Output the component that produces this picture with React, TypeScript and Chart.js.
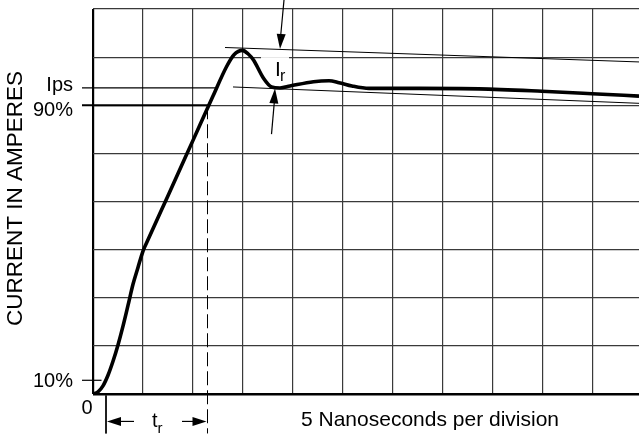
import React, { useEffect, useRef } from "react";
import { Chart, registerables } from "chart.js";

Chart.register(...registerables);

// Axis extents (in grid divisions)
const X_MAX = 10.92;
const Y_MAX = 8;

// Main current waveform (x: divisions of 5 ns, y: divisions)
const curveX = [0, 0.1, 0.2, 0.3, 0.4, 0.5, 0.6, 0.7, 0.8, 0.9, 1.0, 1.12, 1.5, 2.0, 2.4, 2.67, 2.82, 2.99, 3.1, 3.21, 3.41, 3.57, 3.74, 3.94, 4.41, 4.72, 4.92, 5.18, 5.52, 6.52, 7.72, 8.98, 9.98, 10.92];
const curveY = [0, 0.046, 0.17, 0.39, 0.68, 1.02, 1.41, 1.84, 2.28, 2.63, 2.97, 3.25, 4.12, 5.27, 6.19, 6.8, 7.05, 7.14, 7.07, 6.94, 6.56, 6.38, 6.36, 6.4, 6.49, 6.51, 6.47, 6.4, 6.35, 6.35, 6.34, 6.29, 6.24, 6.19];

// Sloped reference lines bounding I_r
const upperRefX = [2.64, 10.92];
const upperRefY = [7.2, 6.9];
const lowerRefX = [2.8, 10.92];
const lowerRefY = [6.38, 6.04];

// Level markers on the left
const levelLabels = ["Ips", "90%", "10%"];
const levelValues = [6.36, 6.0, 0.285];
const levelEnds = [2.5, 2.3, 0.17];
const levelWidths = [1.2, 2.2, 1.2];

// Rise-time markers
const trStartX = 0.26;
const trEndX = 2.29;
const trArrowY = -0.57;
const markerBottomY = -0.82;

const xTitle = "5 Nanoseconds per division";
const yTitle = "CURRENT IN AMPERES";
const FONT = "'Liberation Sans', Arial, Helvetica, sans-serif";

function pts(xs: number[], ys: number[]) {
  return xs.map((x, i) => ({ x, y: ys[i] }));
}

function arrowHead(ctx: CanvasRenderingContext2D, tx: number, ty: number, fx: number, fy: number, len = 14, half = 4.5) {
  const dx = tx - fx, dy = ty - fy;
  const d = Math.hypot(dx, dy) || 1;
  const ux = dx / d, uy = dy / d;
  const bx = tx - ux * len, by = ty - uy * len;
  ctx.beginPath();
  ctx.moveTo(tx, ty);
  ctx.lineTo(bx - uy * half, by + ux * half);
  ctx.lineTo(bx + uy * half, by - ux * half);
  ctx.closePath();
  ctx.fill();
}

const annotations = {
  id: "annotations",
  beforeDatasetsDraw(chart: any) {
    const { ctx } = chart;
    const xs = chart.scales.x, ys = chart.scales.y;
    ctx.save();
    ctx.fillStyle = "#fff";
    const bx = xs.getPixelForValue(3.36), by = ys.getPixelForValue(7.0);
    ctx.fillRect(bx, by, 28, 22);
    ctx.restore();
  },
  afterDatasetsDraw(chart: any) {
    const { ctx } = chart;
    const xs = chart.scales.x, ys = chart.scales.y;
    const area = chart.chartArea;
    ctx.save();
    ctx.fillStyle = "#000";
    ctx.strokeStyle = "#000";
    ctx.lineWidth = 1.2;

    // I_r arrows
    const t1x = xs.getPixelForValue(3.74), t1y = ys.getPixelForValue(7.17);
    const f1x = xs.getPixelForValue(3.82), f1y = 0;
    ctx.beginPath(); ctx.moveTo(f1x, f1y); ctx.lineTo(t1x, t1y - 6); ctx.stroke();
    arrowHead(ctx, t1x, t1y, f1x, f1y, 15, 4.5);
    const t2x = xs.getPixelForValue(3.64), t2y = ys.getPixelForValue(6.35);
    const f2x = xs.getPixelForValue(3.57), f2y = ys.getPixelForValue(5.4);
    ctx.beginPath(); ctx.moveTo(f2x, f2y); ctx.lineTo(t2x, t2y + 6); ctx.stroke();
    arrowHead(ctx, t2x, t2y, f2x, f2y, 15, 4.5);

    // t_r arrows
    const ay = ys.getPixelForValue(trArrowY);
    const lx = xs.getPixelForValue(trStartX), rx = xs.getPixelForValue(trEndX);
    ctx.beginPath(); ctx.moveTo(lx + 6, ay); ctx.lineTo(xs.getPixelForValue(0.82), ay); ctx.stroke();
    arrowHead(ctx, lx + 1, ay, lx + 30, ay, 14, 4.5);
    ctx.beginPath(); ctx.moveTo(xs.getPixelForValue(1.78), ay); ctx.lineTo(rx - 6, ay); ctx.stroke();
    arrowHead(ctx, rx - 1, ay, rx - 30, ay, 14, 4.5);

    // Level labels
    ctx.font = `20px ${FONT}`;
    ctx.textAlign = "right";
    ctx.textBaseline = "alphabetic";
    const offs = [3, 11, 7];
    levelLabels.forEach((l, i) => {
      ctx.fillText(l, area.left - 20, ys.getPixelForValue(levelValues[i]) + offs[i]);
    });
    ctx.textAlign = "center";
    ctx.fillText("0", area.left - 6, area.bottom + 20);

    // x title
    ctx.textAlign = "left";
    ctx.font = `21px ${FONT}`;
    ctx.fillText(xTitle, 301, area.bottom + 32);

    // y title
    ctx.save();
    ctx.translate(16, (area.top + area.bottom) / 2 - 3);
    ctx.rotate(-Math.PI / 2);
    ctx.textAlign = "center";
    ctx.textBaseline = "middle";
    ctx.font = `22.5px ${FONT}`;
    ctx.fillText(yTitle, 0, 0);
    ctx.restore();

    // I_r label
    ctx.textAlign = "left";
    ctx.font = `21px ${FONT}`;
    ctx.fillText("I", 275, 76);
    ctx.font = `16px ${FONT}`;
    ctx.fillText("r", 280, 81);

    // t_r label
    ctx.font = `20px ${FONT}`;
    ctx.fillText("t", 152, 427);
    ctx.font = `15px ${FONT}`;
    ctx.fillText("r", 157.5, 433);

    ctx.restore();
  },
};

export default function App() {
  const ref = useRef<HTMLCanvasElement>(null);
  useEffect(() => {
    if (!ref.current) return;
    const thin = { borderColor: "#000", borderWidth: 1, pointRadius: 0, showLine: true, clip: false as any };
    const datasets: any[] = [
      { label: "current", data: pts(curveX, curveY), borderColor: "#000", borderWidth: 3.6, pointRadius: 0, showLine: true, cubicInterpolationMode: "monotone" },
      { label: "upper", data: pts(upperRefX, upperRefY), ...thin, clip: 0 },
      { label: "lower", data: pts(lowerRefX, lowerRefY), ...thin, clip: 0 },
      ...levelValues.map((v, i) => ({
        label: levelLabels[i],
        data: [{ x: -0.22, y: v }, { x: levelEnds[i], y: v }],
        ...thin,
        borderWidth: levelWidths[i],
      })),
      { label: "trEnd", data: [{ x: trEndX, y: 6.0 }, { x: trEndX, y: markerBottomY }], ...thin, borderDash: [14, 5] },
      { label: "trStart", data: [{ x: trStartX, y: -0.03 }, { x: trStartX, y: markerBottomY }], ...thin },
    ];
    const chart = new Chart(ref.current, {
      type: "scatter",
      data: { datasets },
      options: {
        animation: false,
        responsive: false,
        layout: { padding: { left: 93, right: 0, top: 9, bottom: 42 } },
        plugins: { legend: { display: false }, tooltip: { enabled: false } },
        scales: {
          x: {
            type: "linear",
            min: 0,
            max: X_MAX,
            ticks: { display: false, stepSize: 1, includeBounds: false },
            grid: {
              drawTicks: false,
              color: (c: any) => (c.tick && c.tick.value === 0 ? "#000" : "#3a3a3a"),
              lineWidth: (c: any) => (c.tick && c.tick.value === 0 ? 2.2 : 1.2),
            },
            border: { display: false },
          },
          y: {
            type: "linear",
            min: 0,
            max: Y_MAX,
            ticks: { display: false, stepSize: 1 },
            grid: {
              drawTicks: false,
              color: (c: any) => (c.tick && c.tick.value === 0 ? "#000" : "#3a3a3a"),
              lineWidth: (c: any) => (c.tick && c.tick.value === 0 ? 2.5 : 1.2),
            },
            border: { display: false },
          },
        },
      },
      plugins: [annotations],
    });
    return () => chart.destroy();
  }, []);
  return (
    <div style={{ position: "fixed", left: 0, top: 0, width: 639, height: 436, background: "#fff" }}>
      <canvas ref={ref} width={639} height={436} style={{ display: "block" }} />
    </div>
  );
}
